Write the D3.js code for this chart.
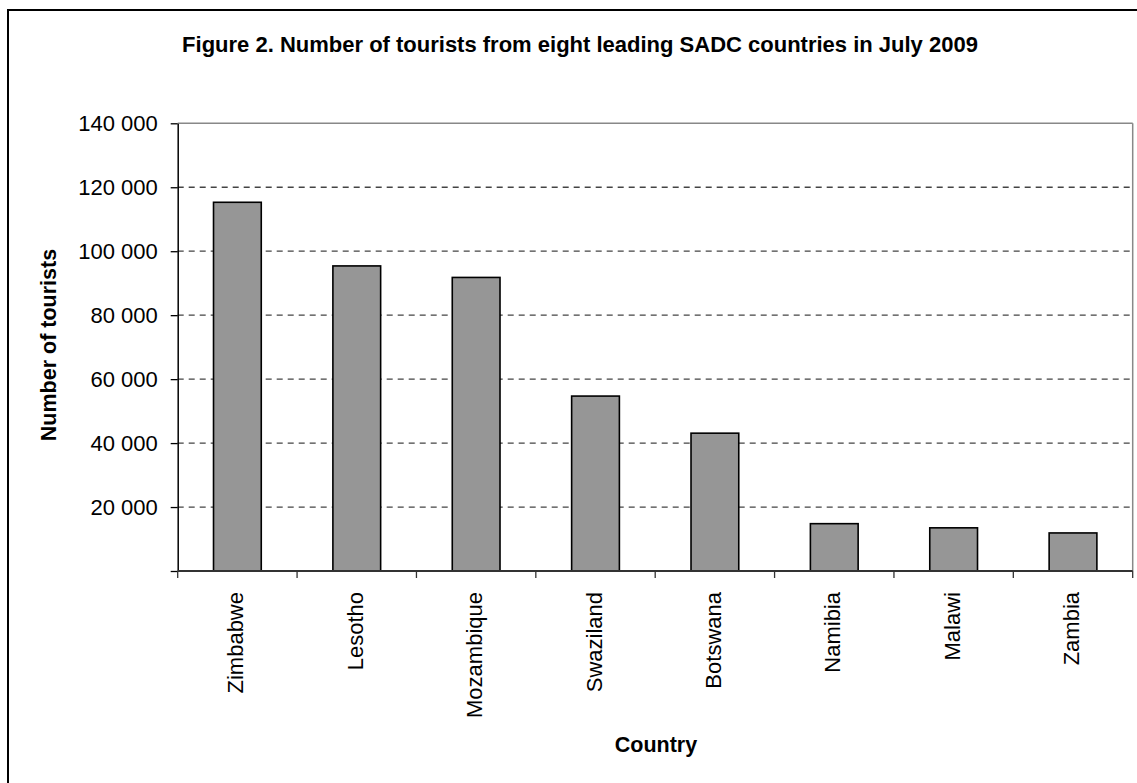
<!DOCTYPE html>
<html>
<head>
<meta charset="utf-8">
<script src="https://cdn.jsdelivr.net/npm/d3@7"></script>
<style>
  html, body { margin: 0; padding: 0; background: #fff; }
  svg { display: block; font-family: "Liberation Sans", Arial, sans-serif; }
</style>
</head>
<body>
<svg id="chart" width="1137" height="783"></svg>
<script>
const categories = ["Zimbabwe", "Lesotho", "Mozambique", "Swaziland", "Botswana", "Namibia", "Malawi", "Zambia"];
const tourists = [115300, 95400, 91800, 54700, 43100, 14800, 13500, 11900];
const yTicks = [0, 20000, 40000, 60000, 80000, 100000, 120000, 140000];
const yTickLabels = ["", "20 000", "40 000", "60 000", "80 000", "100 000", "120 000", "140 000"];
const titleText = "Figure 2. Number of tourists from eight leading SADC countries in July 2009";
const xTitle = "Country";
const yTitle = "Number of tourists";

const svg = d3.select("#chart");
const plot = { left: 177.7, right: 1132.7, top: 123.3, bottom: 571 };

// Outer chart border (extends beyond canvas right/bottom)
svg.append("rect")
  .attr("x", 8).attr("y", 10)
  .attr("width", 1140).attr("height", 790)
  .attr("fill", "#fff").attr("stroke", "#000").attr("stroke-width", 2);

const x = d3.scaleBand().domain(categories)
  .range([plot.left, plot.right]).paddingInner(0.6).paddingOuter(0.3);
const y = d3.scaleLinear().domain([0, 140000]).range([plot.bottom, plot.top]);

// gridlines (dashed)
svg.append("g").selectAll("line")
  .data(yTicks.filter(t => t > 0 && t < 140000))
  .join("line")
  .attr("x1", plot.left).attr("x2", plot.right)
  .attr("y1", d => y(d)).attr("y2", d => y(d))
  .attr("stroke", "#444").attr("stroke-width", 1.3)
  .attr("stroke-dasharray", "6,5");

// plot top & right border
svg.append("line").attr("x1", plot.left).attr("x2", plot.right)
  .attr("y1", y(140000)).attr("y2", y(140000))
  .attr("stroke", "#888").attr("stroke-width", 1.5);
svg.append("line").attr("x1", plot.right).attr("x2", plot.right)
  .attr("y1", plot.top).attr("y2", plot.bottom)
  .attr("stroke", "#888").attr("stroke-width", 1.5);

// bars
svg.append("g").selectAll("rect")
  .data(categories.map((c, i) => ({ c, v: tourists[i] })))
  .join("rect")
  .attr("x", d => x(d.c))
  .attr("y", d => y(d.v))
  .attr("width", x.bandwidth())
  .attr("height", d => y(0) - y(d.v))
  .attr("fill", "#969696")
  .attr("stroke", "#000")
  .attr("stroke-width", 1.6);

// Y axis
const yAxis = d3.axisLeft(y).tickValues(yTicks)
  .tickFormat((d, i) => yTickLabels[i]).tickSizeInner(7).tickSizeOuter(0).tickPadding(13);
const gy = svg.append("g").attr("transform", `translate(${plot.left},0)`).call(yAxis);
gy.select(".domain").attr("stroke", "#000").attr("stroke-width", 1.5);
gy.selectAll(".tick line").attr("stroke", "#000").attr("stroke-width", 1.3);
gy.selectAll(".tick text").attr("font-size", 22).attr("fill", "#000")
  .attr("font-family", "'Liberation Sans', Arial, sans-serif");

// X axis: ticks at category boundaries
const boundaries = d3.range(categories.length + 1).map(i => plot.left + i * x.step());
svg.append("line").attr("x1", plot.left).attr("x2", plot.right)
  .attr("y1", plot.bottom).attr("y2", plot.bottom)
  .attr("stroke", "#333").attr("stroke-width", 2);
svg.append("g").selectAll("line").data(boundaries).join("line")
  .attr("x1", d => d).attr("x2", d => d)
  .attr("y1", plot.bottom).attr("y2", plot.bottom + 7)
  .attr("stroke", "#333").attr("stroke-width", 1.3);

// X labels rotated
svg.append("g").selectAll("text").data(categories).join("text")
  .attr("transform", d => `translate(${x(d) + x.bandwidth() / 2 + 6},592) rotate(-90)`)
  .attr("text-anchor", "end")
  .attr("font-size", 22)
  .attr("fill", "#000")
  .text(d => d);

// Title
svg.append("text").attr("x", 580).attr("y", 52)
  .attr("text-anchor", "middle").attr("font-size", 22).attr("font-weight", "bold")
  .text(titleText);

// Axis titles
svg.append("text").attr("x", 656).attr("y", 752)
  .attr("text-anchor", "middle").attr("font-size", 21.5).attr("font-weight", "bold")
  .text(xTitle);
svg.append("text").attr("transform", "translate(56,345) rotate(-90)")
  .attr("text-anchor", "middle").attr("font-size", 21.5).attr("font-weight", "bold")
  .text(yTitle);
</script>
</body>
</html>
